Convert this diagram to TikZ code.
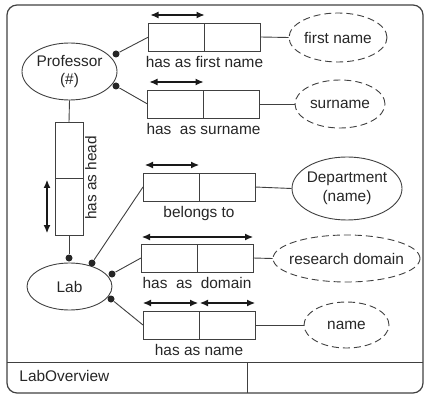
\documentclass[tikz,border=0pt]{standalone}
\usepackage{fontspec}
\setmainfont{Liberation Sans}
\usetikzlibrary{arrows.meta,positioning,shapes.geometric}

\begin{document}
\begin{tikzpicture}[x=1pt,y=-1pt,draw=black!75,text=black!85,line width=0.9pt,
    >={Latex[length=8pt,width=7pt]},node distance=0pt,
    font=\fontsize{15.4}{18.5}\selectfont]
    \tikzstyle{rolecell}=[rectangle,draw,minimum width=56pt,minimum height=28pt,inner sep=0pt,outer sep=0pt]
    \tikzstyle{entity}=[ellipse,draw,inner sep=0pt,align=center]
    \tikzstyle{valuenode}=[entity,dash pattern=on 7pt off 4pt]
    \tikzstyle{joint}=[circle,fill=black!85,inner sep=0pt,minimum size=7pt]
    \tikzstyle{role}=[inner sep=0pt,text height=11pt,text depth=3pt]
    \tikzstyle{rolearrow}=[<->,draw=black!90,line width=1.1pt]
    \useasboundingbox (0,0) rectangle (425,395);

    % Draw the outer frame and the title row
    \draw[line width=1.2pt,rounded corners=10pt] (7,5) rectangle (423,393);
    \draw (7,362) -- (423,362);
    \draw (247,362) -- (247,393);
    \node[anchor=west,inner sep=0pt] (title) at (19,376) {LabOverview};

    % Draw the entity types
    \node[entity,minimum width=95pt,minimum height=57pt] (prof) at (69.5,71.5) {Professor\\(\#)};
    \node[entity,minimum width=85pt,minimum height=47pt] (lab) at (69.5,286.5) {Lab};
    \node[entity,minimum width=110pt,minimum height=63pt] (dept) at (347,188.5)
        {\makebox[70pt]{Department}\\(name)};

    % Draw the value types
    \node[valuenode,minimum width=98pt,minimum height=49pt] (vfirst) at (338,37.5) {first name};
    \node[valuenode,minimum width=90pt,minimum height=48pt] (vsur) at (340,104) {surname};
    \node[valuenode,minimum width=147pt,minimum height=47pt] (vdom) at (346.5,258.5)
        {\makebox[96pt]{research domain}};
    \node[valuenode,minimum width=85pt,minimum height=46pt] (vname) at (346.5,325) {name};

    % Draw the fact types (two roles each)
    \foreach \name / \x / \y in {fn/176.5/37, sn/175.5/104, bt/171/187, dm/169/258, nm/171/325}
    {
        \node[rolecell] (\name1) at (\x,\y) {};
        \node[rolecell,right=of \name1] (\name2) {};
    }
    \node[rolecell,minimum width=28pt,minimum height=56pt] (hd1) at (69,150) {};
    \node[rolecell,minimum width=28pt,minimum height=57pt,below=of hd1] (hd2) {};

    % Name the fact types
    \node[role,below=5pt of fn1.south east] (lfn) {has as first name};
    \node[role,below=5pt of sn1.south east] (lsn) {has\ \ as surname};
    \node[role,below=5pt of bt1.south east] (lbt) {belongs to};
    \node[role,below=5pt of dm1.south east] (ldm) {has\ \ as\ \ domain};
    \node[role,below=5pt of nm1.south east] (lnm) {has as name};
    \node[role,rotate=90,anchor=north] (lhd) at ([xshift=2pt]hd1.south east) {has as head};

    % Uniqueness constraints
    \foreach \name in {fn,sn,bt}
        \draw[rolearrow] ([xshift=2pt,yshift=8pt]\name1.north west) -- ([yshift=8pt]\name1.north east);
    \draw[rolearrow] ([xshift=1pt,yshift=7pt]dm1.north west) -- ([yshift=7pt]dm2.north east);
    \draw[rolearrow] ([yshift=8pt]nm1.north west) -- ([xshift=-1pt,yshift=8pt]nm1.north east);
    \draw[rolearrow] ([xshift=1pt,yshift=8pt]nm2.north west) -- ([yshift=8pt]nm2.north east);
    \draw[rolearrow] ([xshift=-22pt,yshift=-2pt]hd2.north) -- ([xshift=-22pt,yshift=2pt]hd2.south);

    % Mandatory role dots
    \node[joint] (pj1) at (116,54) {};
    \node[joint] (pj2) at (116,86) {};
    \node[joint] (lj1) at (69,258) {};
    \node[joint] (lj2) at (92,263) {};
    \node[joint] (lj3) at (112,274) {};
    \node[joint] (lj4) at (111,299) {};

    % Connect the object types with the roles
    \draw (pj1) -- (fn1.west);
    \draw (pj2) -- (sn1.west);
    \draw (prof.south) -- (hd1.north);
    \draw (hd2.south) -- (lj1);
    \draw (lj2) -- (bt1.west);
    \draw (lj3) -- (dm1.west);
    \draw (lj4) -- (nm1.west);
    \draw (fn2.east) -- (vfirst.west);
    \draw (sn2.east) -- (vsur.west);
    \draw (bt2.east) -- (dept.west);
    \draw (dm2.east) -- (vdom.west);
    \draw (nm2.east) -- (vname.west);

\end{tikzpicture}
\end{document}
